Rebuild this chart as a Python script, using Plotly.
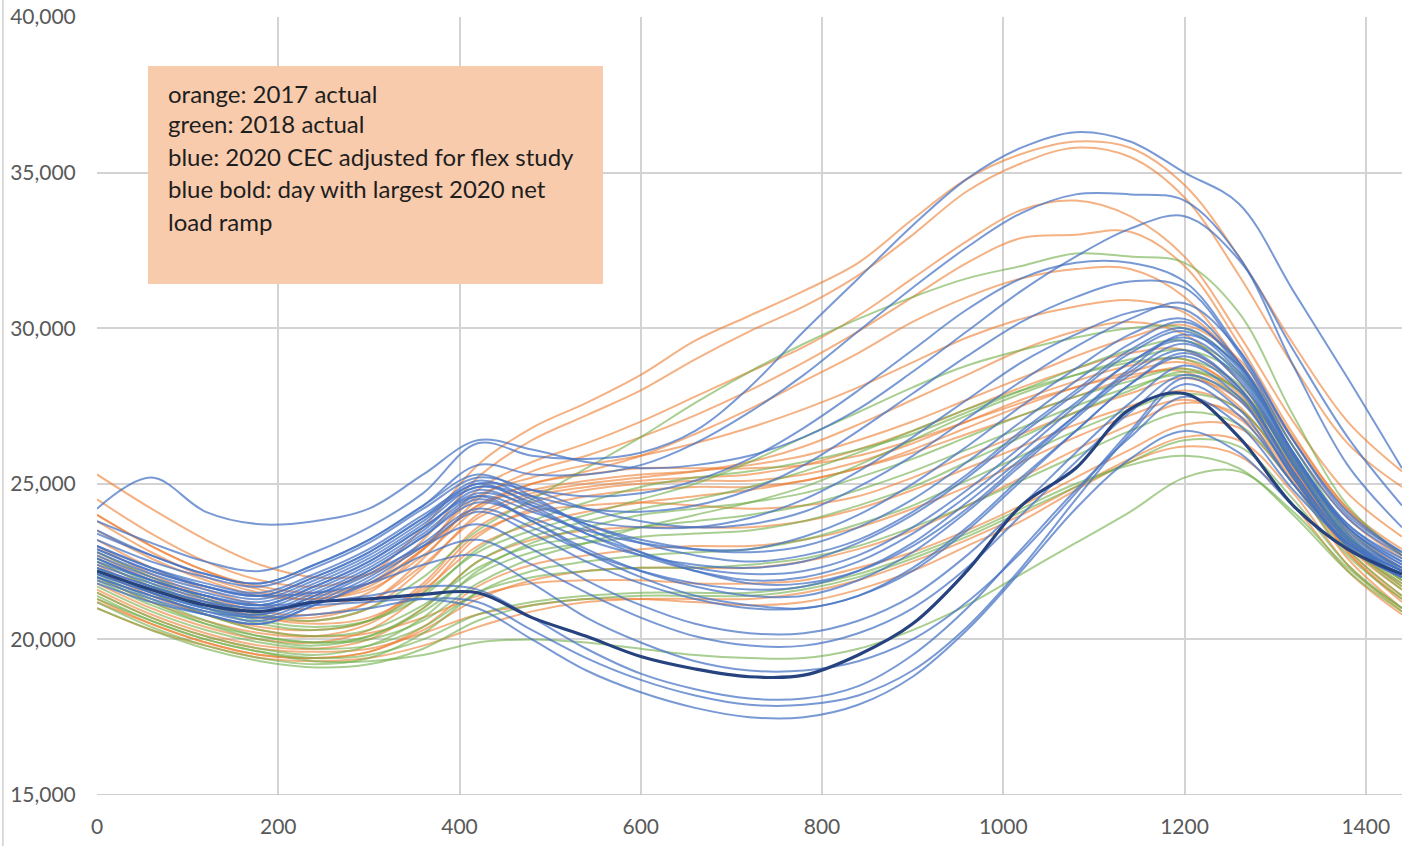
import plotly.graph_objects as go

# minute of day
minutes = [0, 60, 120, 180, 240, 300, 360, 420, 480, 540, 600, 660, 720,
           780, 840, 900, 960, 1020, 1080, 1140, 1200, 1260, 1320, 1380, 1440]

# orange: 2017 actual
orange_2017_days = [
    [24500,23400,22500,21900,21700,22100,23600,25600,26800,27600,28500,29600,30400,31200,32100,33500,34800,35600,36000,35800,34600,32300,29500,27000,25400],
    [24000,23000,22200,21600,21400,21800,23200,25200,26400,27200,28000,29000,29900,30700,31700,33000,34400,35300,35800,35500,34200,31700,28800,26300,24900],
    [23200,22300,21600,21100,21000,21500,22900,24800,25700,26300,27000,27800,28600,29400,30400,31600,32800,33800,34100,33600,32300,29800,27000,24700,23300],
    [22800,22000,21300,20800,20700,21200,22600,24500,25400,25900,26500,27200,28000,28900,29900,31000,32100,32900,33000,33100,32000,29500,26600,24200,22900],
    [23800,22800,22000,21500,21300,21700,22900,24300,25000,25400,25900,26600,27400,28300,29200,30200,31000,31600,31900,31900,31000,28900,26200,23900,22600],
    [25300,24200,23200,22400,22000,22100,23000,24600,25200,25600,25900,26300,26800,27400,28100,28900,29700,30300,30700,30900,30500,28900,26400,24100,22700],
    [22500,21700,21100,20700,20600,21000,22300,24000,24700,25000,25200,25400,25700,26200,26900,27700,28500,29300,29900,30200,29800,28300,25900,23600,22300],
    [23000,22100,21400,20900,20800,21200,22400,23900,24600,24900,25100,25200,25300,25600,26100,26700,27400,28100,28700,29200,29300,28100,25800,23500,22200],
    [22200,21400,20800,20400,20300,20600,21800,23600,24400,24800,25000,25100,25100,25300,25700,26300,27000,27700,28300,28800,29000,27900,25500,23200,21900],
    [21800,21000,20400,20000,19900,20300,21500,23300,24200,24600,24800,24900,24900,25100,25500,26000,26600,27200,27800,28400,28700,27800,25500,23100,21700],
    [23500,22600,21900,21400,21300,21600,22700,24200,25000,25300,25500,25500,25500,25600,25900,26400,27000,27600,28100,28500,28600,27500,25300,23000,21800],
    [22000,21200,20600,20200,20100,20500,21700,23400,24100,24300,24400,24300,24200,24300,24600,25200,25900,26600,27300,27900,28400,27700,25400,23000,21600],
    [21600,20800,20200,19800,19700,20000,21000,22500,23200,23500,23600,23600,23600,23800,24200,24800,25500,26200,26900,27500,28000,27400,25300,22900,21400],
    [21300,20500,19900,19500,19400,19600,20300,21300,21900,22200,22300,22300,22300,22500,22900,23500,24300,25200,26100,26900,27600,27200,25200,22800,21200],
    [22400,21500,20800,20300,20100,20200,20700,21400,21800,21900,21900,21800,21800,21900,22300,22800,23500,24300,25200,26100,26900,26800,25000,22600,21000],
    [21000,20300,19800,19400,19300,19400,19800,20400,20900,21200,21300,21300,21300,21500,21900,22500,23200,24000,24900,25800,26500,26400,24700,22400,20900],
    [21500,20700,20100,19700,19600,19700,20200,20800,21100,21300,21300,21200,21100,21200,21600,22200,23000,23800,24800,25700,26200,25900,24300,22200,20800],
    [24000,23000,22200,21700,21500,21800,22900,24300,24800,25100,25300,25400,25600,25900,26400,27000,27700,28400,29100,29700,30100,29000,26500,24200,22700],
    [22700,21900,21200,20700,20500,20700,21600,23000,23700,24100,24400,24600,24800,25100,25500,26100,26800,27500,28100,28600,28900,28000,25700,23300,22000],
    [21200,20500,19900,19500,19400,19600,20400,21700,22400,22700,22900,23000,23000,23200,23600,24200,24900,25700,26500,27200,27700,27100,25100,22800,21300],
]

# green: 2018 actual
green_2018_days = [
    [22800,22000,21300,20800,20600,21000,22000,23500,24500,25500,26500,27600,28600,29500,30300,31000,31600,32000,32400,32300,32100,30500,27200,24300,22700],
    [22500,21700,21000,20500,20300,20600,21500,22800,23500,24000,24500,25000,25700,26500,27300,28100,28800,29300,29700,30000,30000,28800,26200,23600,22200],
    [22000,21200,20500,20000,19800,20100,21000,22500,23300,23800,24200,24500,24900,25400,26000,26700,27400,28000,28500,28900,29000,28200,25800,23300,21900],
    [21500,20700,20100,19700,19500,19800,20700,22200,23100,23600,24000,24200,24400,24700,25200,25800,26500,27200,27800,28300,28700,28000,25700,23100,21600],
    [22300,21500,20800,20300,20100,20300,21100,22300,23000,23300,23600,23800,24000,24300,24800,25400,26100,26800,27500,28100,28500,27800,25600,23200,21800],
    [21200,20400,19800,19400,19200,19400,20200,21500,22200,22500,22700,22800,22900,23200,23700,24300,25100,25900,26700,27400,27900,27400,25300,22900,21400],
    [21700,20900,20300,19900,19700,19800,20400,21500,22000,22200,22300,22300,22400,22600,23000,23600,24300,25100,25900,26700,27300,26900,25000,22700,21300],
    [21000,20300,19700,19300,19100,19200,19700,20600,21100,21300,21400,21400,21400,21600,22000,22600,23300,24100,24900,25700,26400,26200,24500,22400,21000],
    [22600,21800,21100,20600,20400,20600,21400,22900,23800,24400,24900,25200,25400,25700,26100,26600,27300,28000,28700,29300,29600,28600,26000,23400,22000],
    [21300,20600,20000,19600,19400,19500,20000,20800,21200,21400,21500,21500,21500,21700,22100,22700,23400,24200,25000,25600,25900,25500,24000,22200,20900],
    [22100,21300,20600,20100,19900,20100,20900,22100,22800,23100,23300,23400,23500,23800,24300,24900,25700,26500,27300,28000,28600,28000,25700,23200,21700],
    [21900,21100,20500,20100,19900,20000,20600,21800,22600,23100,23600,24000,24400,24900,25600,26400,27200,27900,28500,29000,29300,28500,26000,23400,21900],
    [21400,20600,20000,19600,19300,19300,19500,19900,20000,19900,19700,19500,19400,19400,19700,20300,21100,22100,23100,24100,25200,25400,24100,22300,21000],
]

# blue: 2020 CEC adjusted for flex study
blue_2020_days = [
    [24200,25200,24100,23700,23800,24200,25300,26400,26100,25700,25500,25600,25900,26500,27400,28600,29900,31200,32300,33200,33600,32200,29300,26500,24300],
    [23800,23100,22500,22200,22800,23600,24700,26300,25900,25800,26000,26700,28100,29900,31600,33300,34800,35800,36300,36000,35000,34000,31200,28400,25500],
    [23400,22700,22100,21800,22400,23200,24300,25600,25300,25300,25600,26300,27300,28500,29900,31300,32600,33700,34300,34300,34100,32300,28800,25600,23600],
    [23000,22300,21800,21500,22100,22900,24000,25000,24800,24600,24700,25100,25800,26800,28000,29300,30600,31600,32100,32100,31500,29300,26400,24100,22800],
    [22900,22200,21700,21400,22000,22800,23900,24900,24600,24200,24100,24300,24800,25600,26700,27900,29100,30200,31000,31500,31300,29200,26200,23900,22700],
    [22600,21900,21400,21100,21700,22500,23600,24700,24300,23800,23600,23600,23900,24500,25400,26500,27700,28900,29800,30500,30600,28900,26000,23700,22500],
    [23200,22500,22000,21700,22300,23100,24200,25200,24800,24200,23800,23600,23700,24100,24900,25900,27100,28300,29400,30300,30800,29300,26400,24000,22800],
    [22300,21700,21200,20900,21500,22300,23400,24600,24100,23500,23100,22900,22900,23300,24000,25000,26200,27500,28700,29800,30300,28800,25900,23600,22400],
    [22700,22000,21500,21200,21800,22600,23700,24900,24400,23700,23200,22900,22800,23000,23600,24500,25700,27000,28300,29500,30200,28900,26000,23600,22400],
    [22100,21500,21000,20800,21400,22200,23300,24400,23900,23200,22700,22400,22300,22500,23100,24000,25200,26600,27900,29200,29900,28600,25800,23500,22300],
    [23000,22300,21700,21400,22000,22800,23900,25100,24500,23700,23100,22700,22500,22700,23200,24100,25300,26700,28000,29300,30000,28700,25900,23600,22500],
    [22400,21800,21300,21000,21600,22400,23500,24800,24200,23400,22800,22300,22100,22200,22700,23600,24800,26200,27600,28900,29700,28500,25700,23400,22300],
    [22000,21400,20900,20600,21200,22000,23100,24200,23600,22800,22200,21800,21600,21700,22200,23100,24400,25800,27200,28600,29500,28400,25600,23300,22200],
    [22800,22100,21600,21300,21900,22700,23800,25000,24300,23400,22700,22200,21900,22000,22500,23400,24600,26000,27500,28900,29600,28300,25600,23300,22300],
    [22200,21600,21100,20800,21400,22200,23300,24500,23800,22900,22200,21700,21400,21400,21900,22800,24100,25600,27100,28500,29300,28100,25400,23200,22200],
    [21800,21200,20800,20500,21100,21900,23000,24100,23400,22500,21800,21300,21000,21000,21400,22300,23600,25200,26700,28200,29100,28000,25300,23100,22100],
    [22500,21900,21400,21100,21700,22500,23600,24600,23800,22800,22000,21400,21100,21000,21400,22200,23500,25100,26700,28200,29200,28100,25400,23200,22200],
    [23500,22700,22100,21800,22400,23200,24300,25300,24600,23600,22800,22200,21800,21800,22200,23000,24200,25700,27200,28700,29800,28800,26000,23700,22600],
    [22100,21500,21000,20700,21300,22100,23000,23700,22900,21900,21100,20500,20200,20200,20600,21400,22700,24300,26000,27600,28800,27800,25200,23000,22000],
    [21900,21300,20800,20500,21100,21800,22700,23200,22400,21500,20700,20100,19800,19800,20200,21000,22300,24000,25700,27300,28500,27700,25200,23000,22000],
    [22300,21700,21200,21000,21100,21200,21300,21000,20000,19000,18300,17800,17500,17500,17900,18800,20300,22200,24200,25800,26700,26000,24300,22900,22000],
    [22600,21900,21400,21100,21200,21400,21700,21600,20700,19700,18900,18400,18100,18100,18500,19500,21000,22900,24800,26500,27800,26900,24800,23100,22200],
    [22000,21400,20900,20700,20800,21000,21300,21200,20300,19400,18700,18200,17900,17900,18200,19000,20400,22300,24500,26600,28200,27200,25000,23100,22100],
    [22900,22200,21700,21400,21500,21800,22400,22700,21800,20700,19900,19300,19000,19000,19300,20000,21200,22800,24700,26700,28400,27400,25000,23100,22100],
]

# blue bold: day with largest 2020 net load ramp
blue_bold_day = [22200,21600,21100,20900,21200,21300,21450,21500,20700,20100,19450,19050,18800,18850,19500,20500,22200,24300,25500,27400,27900,26500,24300,22900,22100]

y_ticks = [15000, 20000, 25000, 30000, 35000, 40000]
x_ticks = [0, 200, 400, 600, 800, 1000, 1200, 1400]

legend_lines = [
    "orange: 2017 actual",
    "green: 2018 actual",
    "blue: 2020 CEC adjusted for flex study",
    "blue bold: day with largest 2020 net",
    "load ramp",
]

fig = go.Figure()

for day in orange_2017_days:
    fig.add_trace(go.Scatter(x=minutes, y=day, mode="lines", line_shape="spline",
                             line=dict(color="rgba(237,125,49,0.6)", width=2),
                             showlegend=False, hoverinfo="skip"))
for day in green_2018_days:
    fig.add_trace(go.Scatter(x=minutes, y=day, mode="lines", line_shape="spline",
                             line=dict(color="rgba(112,173,71,0.6)", width=2),
                             showlegend=False, hoverinfo="skip"))
for day in blue_2020_days:
    fig.add_trace(go.Scatter(x=minutes, y=day, mode="lines", line_shape="spline",
                             line=dict(color="rgba(68,114,196,0.72)", width=2),
                             showlegend=False, hoverinfo="skip"))
fig.add_trace(go.Scatter(x=minutes, y=blue_bold_day, mode="lines", line_shape="spline",
                         line=dict(color="#26437F", width=3.2),
                         showlegend=False, hoverinfo="skip"))

# note box
fig.add_shape(type="rect", xref="paper", yref="paper",
              x0=0.0391, x1=0.3877, y0=0.6568, y1=0.937,
              fillcolor="#F8CBAD", line=dict(width=0), layer="above")
line_y = [0.9023, 0.8625, 0.8205, 0.7795, 0.7370]
for txt, yy in zip(legend_lines, line_y):
    fig.add_annotation(xref="paper", yref="paper", x=0.0529, y=yy,
                       xanchor="left", yanchor="middle", text=txt, showarrow=False,
                       font=dict(family="Lato, Open Sans, sans-serif", size=24, color="#1E1E1E"))

# left frame line
fig.add_shape(type="line", xref="paper", yref="paper", x0=-0.0721, x1=-0.0721,
              y0=-0.07, y1=1.03, line=dict(color="#D0D0D0", width=1.5))

fig.update_layout(
    width=1416, height=846,
    margin=dict(l=97, r=14, t=17, b=51, autoexpand=False),
    paper_bgcolor="white", plot_bgcolor="white",
    font=dict(family="Lato, Open Sans, sans-serif", size=21, color="#595959"),
    xaxis=dict(range=[0, 1440], tickvals=x_ticks, automargin=False,
               showgrid=True, gridcolor="#D3D3D3", gridwidth=1.5, zeroline=False,
               showline=False, ticks="outside", ticklen=13, tickcolor="rgba(0,0,0,0)"),
    yaxis=dict(range=[15000, 40000], tickvals=y_ticks, automargin=False,
               tickformat=",", showgrid=True, gridcolor="#D3D3D3", gridwidth=1.5,
               zeroline=False, showline=False, ticks="outside", ticklen=16,
               tickcolor="rgba(0,0,0,0)"),
)
# bottom axis line
fig.add_shape(type="line", xref="paper", yref="y", x0=0, x1=1, y0=15000, y1=15000,
              line=dict(color="#BFBFBF", width=1.5))

fig.write_html("out.html", config={"displayModeBar": False},
               post_script="document.body.style.margin='0px';document.body.style.overflow='hidden';")
